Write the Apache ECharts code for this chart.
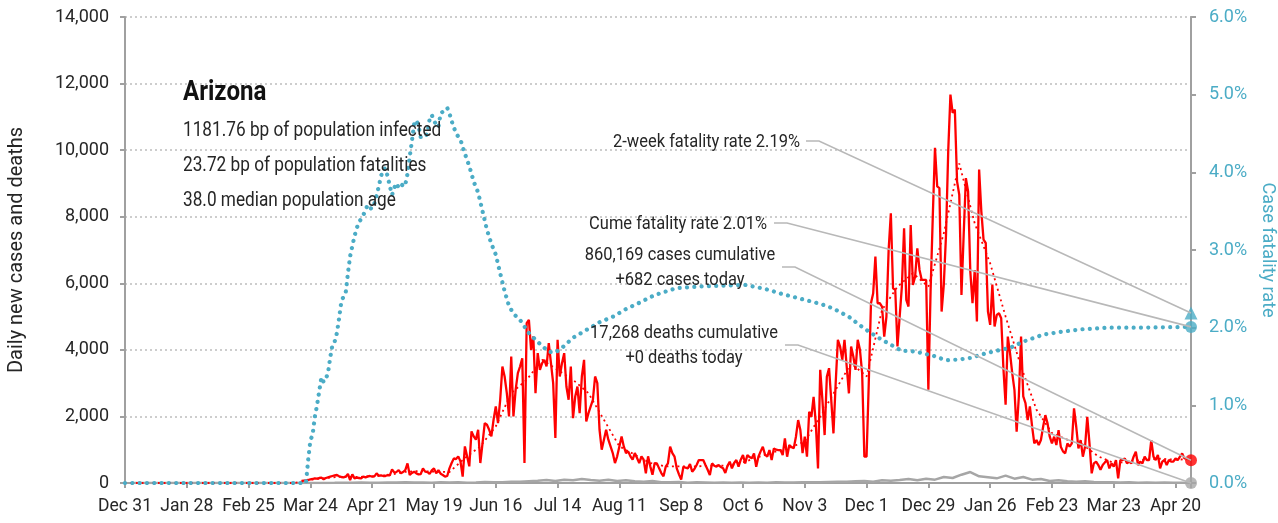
<!DOCTYPE html>
<html><head><meta charset="utf-8">
<script src="https://cdn.jsdelivr.net/npm/echarts@6/dist/echarts.min.js"></script>
<style>html,body{margin:0;padding:0;background:#fff;overflow:hidden}#c{width:1278px;height:523px}</style>
</head><body><div id="c"></div>
<script>
const FONT = "Roboto,'Liberation Sans',sans-serif";

// x axis: days since 2019-12-31, a label every 28 days
const tickLabels = ['Dec 31','Jan 28','Feb 25','Mar 24','Apr 21','May 19','Jun 16','Jul 14','Aug 11',
  'Sep 8','Oct 6','Nov 3','Dec 1','Dec 29','Jan 26','Feb 23','Mar 23','Apr 20'];
const lastDay = 483;

// daily new cases, one value per day starting at day 80
const casesStartDay = 80;
const dailyCases = [
  60,70,80,90,110,120,140,130,150,160,
  110,150,170,190,210,230,240,200,180,170,
  190,270,90,260,140,160,150,140,190,170,
  200,210,190,200,290,220,230,210,210,240,
  230,410,320,330,390,290,330,390,590,240,
  300,340,290,260,270,440,340,330,270,380,
  440,290,390,280,240,190,210,440,600,740,
  720,800,650,190,1100,800,500,1550,1400,1300,
  1600,600,1200,1800,1750,1600,1400,1900,2300,1800,
  2500,3500,3200,2700,2000,3800,2000,2800,3300,3500,
  3750,600,4800,4900,4000,4400,2700,3900,3400,3600,
  3700,3500,4200,3600,3000,1350,4300,3200,3600,3900,
  2900,2500,3500,1950,2600,2900,2100,3200,3700,1850,
  2100,2300,2500,3200,3000,1600,1000,1300,1600,1300,
  1100,900,600,800,1100,1400,1100,900,950,800,
  700,900,750,600,800,700,290,800,500,250,
  600,590,440,300,200,490,590,1090,900,790,
  440,260,100,490,460,440,570,340,420,540,
  690,690,690,540,400,240,590,520,490,540,
  480,440,300,520,640,440,600,690,490,700,
  840,590,840,780,740,890,490,790,950,1090,
  850,790,990,690,1040,1000,990,990,840,1340,
  790,1140,1080,1040,1390,1890,1590,900,1390,790,
  2140,1990,2590,1790,440,3400,2490,1440,3190,3450,
  2490,1490,2990,4300,4100,3700,4300,3500,2690,4100,
  3800,3400,4300,4000,3300,790,790,3000,5400,5700,
  6800,5400,5400,5300,4400,5000,7000,8100,5850,5800,
  4100,5000,5900,7650,5500,5300,7750,5950,6200,7050,
  6400,6100,6100,6100,2800,5750,8000,10070,8910,8860,
  5150,5960,7460,9970,11670,11120,11220,9060,8660,5650,
  7460,9160,8760,6360,5400,6400,4850,9420,8160,7310,
  7210,5150,4750,5960,4700,5050,5100,4950,3450,2350,
  4400,3900,3300,2800,1540,2600,4400,2600,2400,1890,
  2300,1700,1190,1290,1140,1290,1690,2040,1790,1390,
  1190,1390,1140,1590,1090,950,890,1190,1090,1190,
  2240,1690,1040,1290,790,1090,1990,1190,290,590,
  640,540,400,540,620,690,440,590,490,690,
  140,690,690,740,590,640,590,790,940,540,
  640,590,790,690,690,1290,790,690,840,440,
  640,690,540,690,640,640,740,690,790,890,
  740,740,720,682
];

// 7-day average of cases, read every 7 days starting at day 0
const avgStartDay = 0, avgStepDays = 7;
const avgCases = [
  0,0,0,0,0,0,0,0,0,0,0,0,
  100,150,190,180,200,230,330,360,340,330,
  750,1100,1700,2700,3100,3700,3400,3100,2700,1900,
  1100,850,600,500,500,500,520,520,620,780,
  930,1050,1250,2000,2800,3600,3200,5200,5900,6300,
  5900,7500,9600,7800,6600,5000,3500,2200,1500,1300,
  1150,800,600,640,700,730,700,720
];

// daily deaths, read every 4 days starting at day 3
const deathsStartDay = 3, deathsStepDays = 4;
const dailyDeaths = [
  0,0,0,0,0,0,0,0,0,0,0,0,0,0,0,0,0,0,0,0,
  0,2,3,5,8,10,12,8,10,15,
  12,20,15,18,10,25,15,20,10,15,
  30,20,25,35,40,55,70,90,60,100,
  80,120,90,70,100,60,80,50,40,60,
  25,20,30,10,20,15,10,15,8,12,
  10,15,8,20,12,15,20,25,20,30,
  40,35,50,60,40,80,70,90,120,80,
  130,100,180,150,250,330,200,170,140,220,
  130,180,100,120,60,80,50,40,50,30,
  25,20,15,20,10,15,8,12,10,5,
  0
];

// case fatality rate (%), day and value
const cfrDays = [0,82,83,84,85,86,87,88,89,90,91,92,93,94,95,96,97,98,99,100,
  101,102,103,104,105,106,107,108,109,110,111,112,113,114,115,116,117,118,119,120,
  121,122,123,124,125,126,127,128,129,130,131,132,133,134,135,136,137,138,139,140,
  141,142,143,144,145,146,147,148,149,150,152,154,156,158,160,162,164,166,168,170,
  172,174,176,179,183,188,192,195,198,203,209,215,221,227,233,240,250,260,270,281,
  290,297,305,312,318,322,328,333,337,342,347,352,356,360,366,372,378,383,390,396,
  401,407,413,416,425,434,446,461,483];
const cfrPct = [0,0,0.30,0.55,0.62,0.85,1.00,1.18,1.36,1.30,1.34,1.42,1.62,1.78,1.82,1.93,2.12,2.33,2.40,2.45,
  2.70,2.92,3.05,3.18,3.28,3.36,3.40,3.45,3.52,3.58,3.54,3.53,3.60,3.70,3.82,3.95,4.04,4.05,3.95,3.82,
  3.71,3.80,3.86,3.80,3.80,3.86,3.84,3.98,4.20,4.40,4.62,4.67,4.60,4.45,4.45,4.46,4.50,4.68,4.74,4.66,
  4.62,4.58,4.76,4.78,4.80,4.83,4.76,4.66,4.58,4.50,4.42,4.24,4.08,3.88,3.74,3.50,3.26,3.08,2.94,2.70,
  2.47,2.28,2.18,2.10,1.93,1.79,1.69,1.68,1.74,1.87,1.97,2.07,2.14,2.24,2.32,2.42,2.51,2.53,2.54,2.55,
  2.50,2.44,2.38,2.33,2.28,2.23,2.14,2.03,1.95,1.86,1.78,1.70,1.70,1.68,1.64,1.58,1.59,1.61,1.67,1.71,
  1.74,1.82,1.88,1.91,1.95,1.98,2.00,2.00,2.01];

// latest figures
const casesToday = 682, deathsToday = 0, cumeCfr = 2.01, twoWeekCfr = 2.19;
const cumCasesText = '860,169', cumDeathsText = '17,268';
const stateName = 'Arizona';
const statLines = ['1181.76 bp of population infected','23.72 bp of population fatalities','38.0 median population age'];

const RED = '#ff0000', BLUE = '#4bacc6', GRAY = '#a6a6a6', TXT = '#262626';
const pairs = (start, step, arr) => arr.map((v, i) => [start + i * step, v]);

const chart = echarts.init(document.getElementById('c'), null, {renderer: 'canvas'});
const axisLine = {show: true, lineStyle: {color: '#a0a0a0', width: 2}};
const axisTick = {show: true, length: 5, lineStyle: {color: '#a0a0a0', width: 2}};
chart.setOption({
  animation: false,
  textStyle: {fontFamily: FONT},
  grid: {left: 125, right: 87, top: 17, bottom: 40, containLabel: false, outerBoundsMode: 'none'},
  xAxis: {
    type: 'value', min: 0, max: lastDay, interval: 28,
    axisLine: axisLine, axisTick: axisTick, splitLine: {show: false},
    axisLabel: {fontSize: 17.5, color: TXT, fontFamily: FONT, margin: 15,
      formatter: v => (v % 28 === 0 && tickLabels[v / 28]) ? tickLabels[v / 28] : ''}
  },
  yAxis: [{
    type: 'value', min: 0, max: 14000, interval: 2000,
    name: 'Daily new cases and deaths', nameLocation: 'middle', nameGap: 98,
    nameTextStyle: {fontSize: 20, color: TXT, fontFamily: FONT},
    axisLine: axisLine, axisTick: axisTick,
    splitLine: {show: true, lineStyle: {color: '#bdbdbd', width: 1.5, type: [2, 3]}},
    axisLabel: {fontSize: 18, color: TXT, fontFamily: FONT, margin: 16,
      formatter: v => v.toLocaleString('en-US')}
  }, {
    type: 'value', min: 0, max: 6, interval: 1, position: 'right',
    name: 'Case fatality rate', nameLocation: 'middle', nameGap: 62, nameRotate: -90,
    nameTextStyle: {fontSize: 18, color: BLUE, fontFamily: FONT},
    axisLine: axisLine, axisTick: axisTick, splitLine: {show: false},
    axisLabel: {fontSize: 18, color: BLUE, fontFamily: FONT, margin: 18,
      formatter: v => v.toFixed(1) + '%'}
  }],
  series: [
    {name: 'deaths', type: 'line', data: pairs(deathsStartDay, deathsStepDays, dailyDeaths),
      showSymbol: false, lineStyle: {color: GRAY, width: 2.5}, z: 2},
    {name: 'cases', type: 'line', data: pairs(casesStartDay, 1, dailyCases),
      showSymbol: false, lineStyle: {color: RED, width: 2.3}, z: 3},
    {name: 'avg', type: 'line', data: pairs(avgStartDay, avgStepDays, avgCases),
      showSymbol: false, lineStyle: {color: RED, width: 1.8, type: [2, 3.5]}, z: 4},
    {name: 'cfr', type: 'line', yAxisIndex: 1, data: cfrDays.map((d, i) => [d, cfrPct[i]]),
      showSymbol: false, lineStyle: {color: BLUE, width: 4.2, type: [0.01, 7.3], cap: 'round'}, z: 5},
    {name: 'leftMarks', type: 'scatter', clip: false, z: 6,
      data: [{value: [lastDay, casesToday], itemStyle: {color: RED}},
             {value: [lastDay, deathsToday], itemStyle: {color: GRAY}}],
      symbol: 'circle', symbolSize: 12},
    {name: 'rightMarks', type: 'scatter', yAxisIndex: 1, clip: false, z: 6,
      data: [{value: [lastDay, cumeCfr], symbol: 'circle', symbolSize: 12},
             {value: [lastDay, twoWeekCfr], symbol: 'triangle', symbolSize: 13}],
      itemStyle: {color: BLUE}}
  ]
});

// annotations with leader lines to the end markers
const pRed = chart.convertToPixel({seriesIndex: 4}, [lastDay, casesToday]);
const pGray = chart.convertToPixel({seriesIndex: 4}, [lastDay, deathsToday]);
const pCume = chart.convertToPixel({seriesIndex: 5}, [lastDay, cumeCfr]);
const pTwo = chart.convertToPixel({seriesIndex: 5}, [lastDay, twoWeekCfr]);

const txt = (x, y, text, size, align, sx, extra) => ({
  type: 'text', x: x, y: y, z: 10, scaleX: sx,
  style: Object.assign({text: text, fontSize: size, fontFamily: FONT, fill: TXT,
    align: align, textAlign: align, verticalAlign: 'middle', textVerticalAlign: 'middle'}, extra || {})
});
const leader = (x0, y0, p) => ({
  type: 'polyline', z: 9,
  shape: {points: [[x0, y0], [x0 + 13, y0], [p[0], p[1]]]},
  style: {stroke: '#b8b8b8', lineWidth: 1.6, fill: null}
});

chart.setOption({
  graphic: [
    txt(183, 93, stateName, 28, 'left', 0.86, {fontWeight: 'bold', fill: '#111'}),
    txt(183, 131, statLines[0], 21, 'left', 0.82),
    txt(183, 166, statLines[1], 21, 'left', 0.82),
    txt(183, 201, statLines[2], 21, 'left', 0.82),
    txt(800, 142, '2-week fatality rate ' + twoWeekCfr.toFixed(2) + '%', 18.5, 'right', 0.89),
    leader(806, 141, pTwo),
    txt(767, 224, 'Cume fatality rate ' + cumeCfr.toFixed(2) + '%', 18.5, 'right', 0.89),
    leader(774, 223, pCume),
    txt(680, 268, cumCasesText + ' cases cumulative\n+' + casesToday + ' cases today', 18.5, 'center', 0.89, {lineHeight: 25}),
    leader(782, 267, pRed),
    txt(684, 346, cumDeathsText + ' deaths cumulative\n+' + deathsToday + ' deaths today', 18.5, 'center', 0.89, {lineHeight: 25}),
    leader(785, 345, pGray)
  ]
});
</script>
</body></html>
